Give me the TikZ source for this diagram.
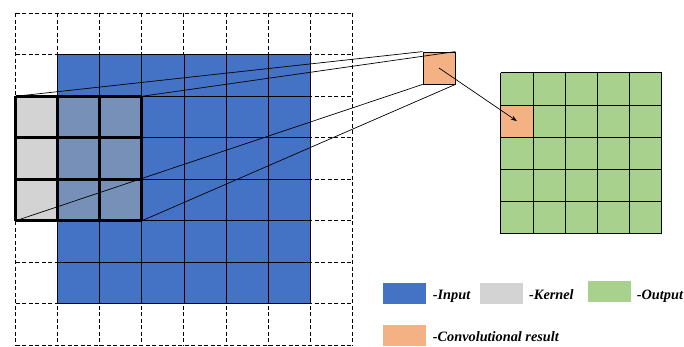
\documentclass[tikz,border=0pt]{standalone}
\usepackage{fontspec}
\setmainfont{Liberation Serif}
\usetikzlibrary{arrows.meta}
\definecolor{inblue}{HTML}{4472C4}
\definecolor{kgray}{HTML}{D3D3D3}
\definecolor{kblue}{HTML}{7790B8}
\definecolor{outgreen}{HTML}{A9D18E}
\definecolor{resorange}{HTML}{F4B183}
\begin{document}
\begin{tikzpicture}[x=1pt,y=-1pt,
  gridd/.style={line width=0.9pt,dash pattern=on 4pt off 2.5pt},
  grids/.style={line width=0.8pt},
  kline/.style={line width=2.8pt},
  resbox/.style={draw,line width=0.8pt,fill=resorange,minimum size=32pt,inner sep=0pt},
  legbox/.style={minimum width=43pt,minimum height=21pt,inner sep=0pt},
  legtext/.style={anchor=base west,inner sep=0pt,font=\fontsize{14.3}{16}\selectfont\bfseries\itshape},
  conn/.style={line width=0.7pt}]
\useasboundingbox (0,0) rectangle (684,346);
% dashed full grid
\foreach \i in {0,...,8}{
  \draw[gridd] ({15.5+42.1*\i},13.3) -- ({15.5+42.1*\i},345.3);
  \draw[gridd] (15.5,{13.3+41.5*\i}) -- (352.3,{13.3+41.5*\i});
}
% input (blue)
\fill[inblue] (57.6,54.8) rectangle (310.2,303.8);
\foreach \i in {1,...,7}{
  \draw[grids] ({15.5+42.1*\i},54.8) -- ({15.5+42.1*\i},303.8);
  \draw[grids] (57.6,{13.3+41.5*\i}) -- (310.2,{13.3+41.5*\i});
}
% kernel
\fill[kgray] (15.5,96.3) rectangle (57.6,220.8);
\fill[kblue] (57.6,96.3) rectangle (141.8,220.8);
\foreach \i in {0,...,3}{
  \draw[kline] ({15.5+42.1*\i},96.3) -- ({15.5+42.1*\i},220.8);
  \draw[kline] (15.5,{96.3+41.5*\i}) -- (141.8,{96.3+41.5*\i});
}
\coordinate (kTL) at (15.5,96.3);
\coordinate (kTR) at (141.8,96.3);
\coordinate (kBL) at (15.5,220.8);
\coordinate (kBR) at (141.8,220.8);
% convolution result
\node[resbox] (res) at (439,68) {};
\draw[conn] (kTL) -- (res.north west);
\draw[conn] (kTR) -- (res.north east);
\draw[conn] (kBL) -- (res.south west);
\draw[conn] (kBR) -- (res.south east);
% output grid
\fill[outgreen] (500.7,72.7) rectangle (661.7,233.7);
\node[resbox,minimum size=32.2pt] (outcell) at (516.8,121.0) {};
\foreach \i in {0,...,5}{
  \draw[grids] ({500.7+32.2*\i},72.7) -- ({500.7+32.2*\i},233.7);
  \draw[grids] (500.7,{72.7+32.2*\i}) -- (661.7,{72.7+32.2*\i});
}
\draw[conn,-{Stealth[length=6pt,width=4.5pt]}] (res.center) -- (outcell.center);
% legend
\node[legbox,fill=inblue] (lin) at (404.3,293.7) {};
\node[legtext] (tin) at (432.7,299.3) {-Input};
\node[legbox,fill=kgray] (lk) at (501.8,293.7) {};
\node[legtext] (tk) at (529,299.3) {-Kernel};
\node[legbox,fill=outgreen] (lout) at (609.2,291.3) {};
\node[legtext] (tout) at (636.7,299.3) {-Output};
\node[legbox,fill=resorange] (lres) at (404.3,335.5) {};
\node[legtext] (tres) at (432.7,341) {-Convolutional result};
\end{tikzpicture}
\end{document}
